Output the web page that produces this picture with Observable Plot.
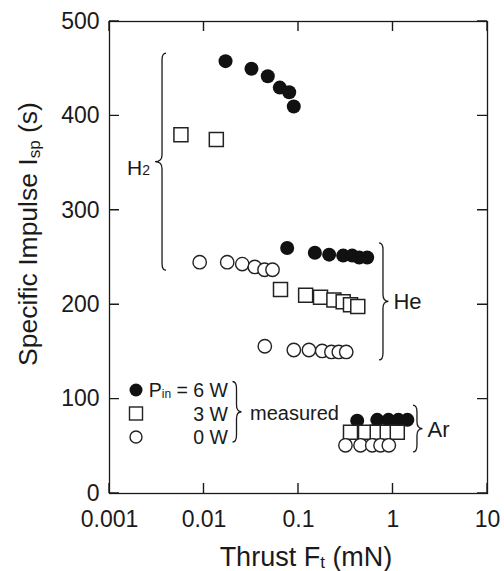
<!DOCTYPE html>
<html><head><meta charset="utf-8">
<script src="https://cdn.jsdelivr.net/npm/d3@7"></script>
<script src="https://cdn.jsdelivr.net/npm/@observablehq/plot@0.6"></script>
<style>body{margin:0;background:#fff} #chart svg{display:block}</style>
</head><body><div id="chart"></div>
<script>
// ---- data (thrust in mN, specific impulse in s) ----
const h2_6W_thrust = [0.0169, 0.0318, 0.0473, 0.0634, 0.0797, 0.0891];
const h2_6W_isp    = [458, 450, 442, 430, 425, 410];
const h2_3W_thrust = [0.0057, 0.0135];
const h2_3W_isp    = [380, 375];
const h2_0W_thrust = [0.0090, 0.0176, 0.0254, 0.0345, 0.0437, 0.0531];
const h2_0W_isp    = [245, 245, 243, 240, 237, 237];
const he_6W_thrust = [0.0759, 0.149, 0.211, 0.297, 0.370, 0.439, 0.533];
const he_6W_isp    = [260, 255, 253, 252, 252, 250, 250];
const he_3W_thrust = [0.0645, 0.119, 0.171, 0.237, 0.297, 0.355, 0.424];
const he_3W_isp    = [216, 210, 208, 205, 203, 200, 198];
const he_0W_thrust = [0.0440, 0.0892, 0.129, 0.178, 0.223, 0.267, 0.320];
const he_0W_isp    = [156, 152, 152, 151, 150, 150, 150];
const ar_6W_thrust = [0.418, 0.681, 0.896, 1.14, 1.42];
const ar_6W_isp    = [77, 78, 78, 78, 78];
const ar_3W_thrust = [0.355, 0.512, 0.681, 0.869, 1.11];
const ar_3W_isp    = [65, 65, 65, 65, 65];
const ar_0W_thrust = [0.314, 0.453, 0.603, 0.738, 0.903];
const ar_0W_isp    = [51, 51, 51, 51, 51];

const xTicks = [0.001, 0.01, 0.1, 1, 10];
const yTicks = [0, 100, 200, 300, 400, 500];
const legendLabels = ["6 W", "3 W", "0 W"];

// gas group braces: thrust position, Isp span
const braceGas   = ["H2", "He", "Ar"];
const braceX     = [0.00364, 0.793, 1.815];
const braceYTop  = [466, 265, 93];
const braceYBot  = [236, 141, 43.5];

(function () {
// ---- build tables ----
function rows(gas, power, t, s) { return t.map((v, i) => ({gas, power, thrust: v, isp: s[i]})); }
const filled = [...rows("H2",6,h2_6W_thrust,h2_6W_isp), ...rows("He",6,he_6W_thrust,he_6W_isp), ...rows("Ar",6,ar_6W_thrust,ar_6W_isp)];
const squares = [...rows("H2",3,h2_3W_thrust,h2_3W_isp), ...rows("He",3,he_3W_thrust,he_3W_isp), ...rows("Ar",3,ar_3W_thrust,ar_3W_isp)];
const opens = [...rows("H2",0,h2_0W_thrust,h2_0W_isp), ...rows("He",0,he_0W_thrust,he_0W_isp), ...rows("Ar",0,ar_0W_thrust,ar_0W_isp)];

const ink = "#1a1a1a";
const font = "'Liberation Sans', Arial, Helvetica, sans-serif";

const plot = Plot.plot({
  width: 504, height: 571,
  marginLeft: 109, marginRight: 17, marginTop: 21, marginBottom: 78,
  style: {fontFamily: font, fontSize: "23px", color: ink, background: "#fff"},
  x: {type: "log", domain: [0.001, 10], label: null},
  y: {domain: [0, 500], label: null},
  marks: [
    Plot.axisX({ticks: xTicks, tickSize: 0, tickPadding: 17, tickFormat: d => String(d), label: null}),
    Plot.axisY({ticks: yTicks, tickSize: 0, tickPadding: 10, label: null}),
    Plot.frame({stroke: ink, strokeWidth: 1.3}),
    Plot.dot(filled, {x: "thrust", y: "isp", r: 7, fill: "#111", stroke: "none"}),
    Plot.dot(squares, {x: "thrust", y: "isp", r: 7.9, symbol: "square", fill: "#fff", stroke: "#222", strokeWidth: 1.5}),
    Plot.dot(opens, {x: "thrust", y: "isp", r: 6.7, fill: "#fff", stroke: "#222", strokeWidth: 1.4})
  ]
});
document.getElementById("chart").appendChild(plot);

// ---- inward ticks on all four sides (positions from the plot's scales) ----
const svg = d3.select(plot);
const X = plot.scale("x"), Y = plot.scale("y");
const xLeft = X.apply(xTicks[0]), xRight = X.apply(xTicks[xTicks.length - 1]);
const yBottom = Y.apply(yTicks[0]), yTop = Y.apply(yTicks[yTicks.length - 1]);
const tk = 10;
const tg = svg.append("g").attr("stroke", ink).attr("stroke-width", 1.4).attr("fill", "none");
let d = "";
xTicks.forEach(t => {
  const px = X.apply(t);
  d += `M${px},${yBottom}V${yBottom - tk}M${px},${yTop}V${yTop + tk}`;
});
yTicks.forEach(t => {
  const py = Y.apply(t);
  d += `M${xLeft},${py}H${xLeft + tk}M${xRight},${py}H${xRight - tk}`;
});
tg.append("path").attr("d", d);

// ---- annotations ----
const g = svg.append("g").attr("fill", ink).attr("font-family", font).attr("text-anchor", "start");

function bracePath(x, ya, yb, dir, w, c) {
  const ym = (ya + yb) / 2, r = Math.min(7, (yb - ya) / 5);
  return `M${x - dir*c},${ya} Q${x},${ya} ${x},${ya + r} L${x},${ym - r} Q${x},${ym} ${x + dir*w},${ym}` +
         ` Q${x},${ym} ${x},${ym + r} L${x},${yb - r} Q${x},${yb} ${x - dir*c},${yb}`;
}

braceGas.forEach((gas, i) => {
  const dir = i === 0 ? -1 : 1;
  const x = X.apply(braceX[i]), ya = Y.apply(braceYTop[i]), yb = Y.apply(braceYBot[i]);
  const w = i === 0 ? 7 : 5.5, c = 4;
  g.append("path").attr("d", bracePath(x, ya, yb, dir, w, c))
    .attr("fill", "none").attr("stroke", ink).attr("stroke-width", 1.3);
  const ym = (ya + yb) / 2;
  if (gas === "H2") {
    const t = g.append("text").attr("x", x - w - 5).attr("y", ym + 13).attr("text-anchor", "end").attr("font-size", 21);
    t.append("tspan").text("H");
    t.append("tspan").attr("font-size", 14).text("2");
  } else {
    g.append("text").attr("x", x + w + 5).attr("y", ym + 8).attr("font-size", 22).text(gas);
  }
});

// legend
const lx = 136, rowsY = [390, 413.5, 437], textRight = 228;
g.append("circle").attr("cx", lx).attr("cy", rowsY[0]).attr("r", 6.5).attr("fill", "#111");
g.append("rect").attr("x", lx - 6.5).attr("y", rowsY[1] - 6.5).attr("width", 13).attr("height", 13)
  .attr("fill", "#fff").attr("stroke", "#222").attr("stroke-width", 1.4);
g.append("circle").attr("cx", lx).attr("cy", rowsY[2]).attr("r", 6).attr("fill", "#fff").attr("stroke", "#222").attr("stroke-width", 1.4);
const t0 = g.append("text").attr("x", textRight).attr("y", rowsY[0] + 7).attr("text-anchor", "end").attr("font-size", 19.5);
t0.append("tspan").text("P");
t0.append("tspan").attr("font-size", 12).attr("dy", 1).text("in");
t0.append("tspan").attr("dy", -1).text(" = " + legendLabels[0]);
g.append("text").attr("x", textRight).attr("y", rowsY[1] + 7).attr("text-anchor", "end").attr("font-size", 19.5).text(legendLabels[1]);
g.append("text").attr("x", textRight).attr("y", rowsY[2] + 7).attr("text-anchor", "end").attr("font-size", 19.5).text(legendLabels[2]);
g.append("path").attr("d", bracePath(236.5, 381.5, 442, 1, 5, 4)).attr("fill", "none").attr("stroke", ink).attr("stroke-width", 1.3);
g.append("text").attr("x", 250).attr("y", 420).attr("font-size", 20).text("measured");

// axis titles
const xt = g.append("text").attr("x", 306).attr("y", 566).attr("text-anchor", "middle").attr("font-size", 27);
xt.append("tspan").text("Thrust F");
xt.append("tspan").attr("font-size", 17).attr("dy", 2).text("t");
xt.append("tspan").attr("dy", -2).text(" (mN)");
const yt = g.append("text").attr("transform", "translate(37,234) rotate(-90)").attr("text-anchor", "middle").attr("font-size", 26.5);
yt.append("tspan").text("Specific Impulse I");
yt.append("tspan").attr("font-size", 17).attr("dy", 3).text("sp");
yt.append("tspan").attr("dy", -3).text(" (s)");
})();
</script>
</body></html>
